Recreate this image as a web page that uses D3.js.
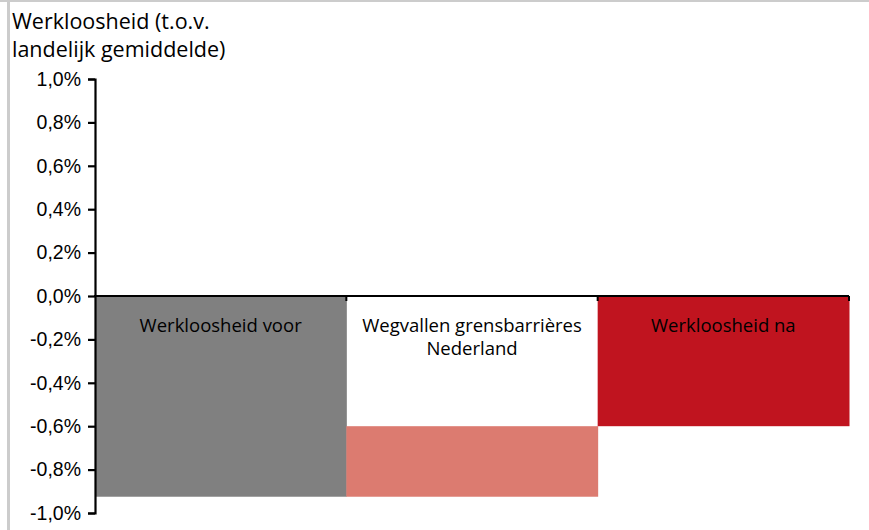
<!DOCTYPE html>
<html>
<head>
<meta charset="utf-8">
<script src="https://cdn.jsdelivr.net/npm/d3@7"></script>
<style>
  body { margin: 0; background: white; }
  svg { font-family: "Open Sans", "Noto Sans", sans-serif; }
</style>
</head>
<body>
<svg id="chart" width="869" height="530"></svg>
<script>
// waterfall: start, change, end (in %)
const categories = ["Werkloosheid voor", "Wegvallen grensbarrières\nNederland", "Werkloosheid na"];
const barStart = [0, -0.60, 0];
const barEnd = [-0.925, -0.925, -0.60];
const barColors = ["#808080", "#dc7b70", "#c0141f"];
const tickValues = [1.0, 0.8, 0.6, 0.4, 0.2, 0.0, -0.2, -0.4, -0.6, -0.8, -1.0];
const axisTitle = ["Werkloosheid (t.o.v.", "landelijk gemiddelde)"];

window.addEventListener("load", main);

function main()
{
    const svg = d3.select("svg#chart");
    const width = +svg.attr("width");
    const height = +svg.attr("height");

    // grijze kader (links en boven)
    svg.append("rect").attr("x", 0).attr("y", 0).attr("width", width).attr("height", 2).attr("fill", "#cccccc");
    svg.append("rect").attr("x", 7).attr("y", 0).attr("width", 3).attr("height", height).attr("fill", "#cccccc");

    const x = d3.scaleBand().domain(categories).range([95, 849]).padding(0);
    const y = d3.scaleLinear().domain([-1, 1]).range([513, 79]);

    // bars
    svg.selectAll("rect.bar").data(categories).join("rect")
        .attr("class", "bar")
        .attr("x", d => x(d))
        .attr("width", x.bandwidth() + 0.5)
        .attr("y", (d, i) => y(Math.max(barStart[i], barEnd[i])))
        .attr("height", (d, i) => Math.abs(y(barStart[i]) - y(barEnd[i])))
        .attr("fill", (d, i) => barColors[i]);

    // y as
    const yAxis = d3.axisLeft(y).tickValues(tickValues).tickSize(7).tickPadding(7)
        .tickFormat(d => d3.format(".1f")(d).replace("−", "-").replace(".", ",") + "%");
    const g = svg.append("g").attr("transform", "translate(95,0)").call(yAxis);
    g.select(".domain").attr("stroke", "black").attr("stroke-width", 2.2);
    g.selectAll(".tick line").attr("stroke", "black").attr("stroke-width", 2.2);
    g.selectAll(".tick text").attr("fill", "black").attr("font-size", "19.5px");

    // nul-lijn met categorie scheidingstreepjes
    svg.append("line").attr("x1", 94).attr("x2", 849).attr("y1", y(0)).attr("y2", y(0))
        .attr("stroke", "black").attr("stroke-width", 2.2);
    svg.selectAll("line.sep").data(categories).join("line")
        .attr("class", "sep")
        .attr("x1", d => x(d) + x.bandwidth()).attr("x2", d => x(d) + x.bandwidth())
        .attr("y1", y(0)).attr("y2", y(0) + 5)
        .attr("stroke", "black").attr("stroke-width", 2);

    // labels in de balken
    const labels = svg.selectAll("text.lbl").data(categories).join("text")
        .attr("class", "lbl")
        .attr("x", d => x(d) + x.bandwidth() / 2)
        .attr("y", 332)
        .attr("text-anchor", "middle")
        .attr("font-size", "18.5px")
        .attr("fill", "black");
    labels.selectAll("tspan").data(d => d.split("\n")).join("tspan")
        .attr("x", function() { return this.parentNode.getAttribute("x"); })
        .attr("dy", (d, i) => i === 0 ? 0 : 23)
        .text(d => d);

    // as titel
    svg.selectAll("text.title").data(axisTitle).join("text")
        .attr("class", "title")
        .attr("x", 12)
        .attr("y", (d, i) => 29 + i * 28)
        .attr("font-size", "21.5px")
        .attr("fill", "black")
        .text(d => d);
}
</script>
</body>
</html>
